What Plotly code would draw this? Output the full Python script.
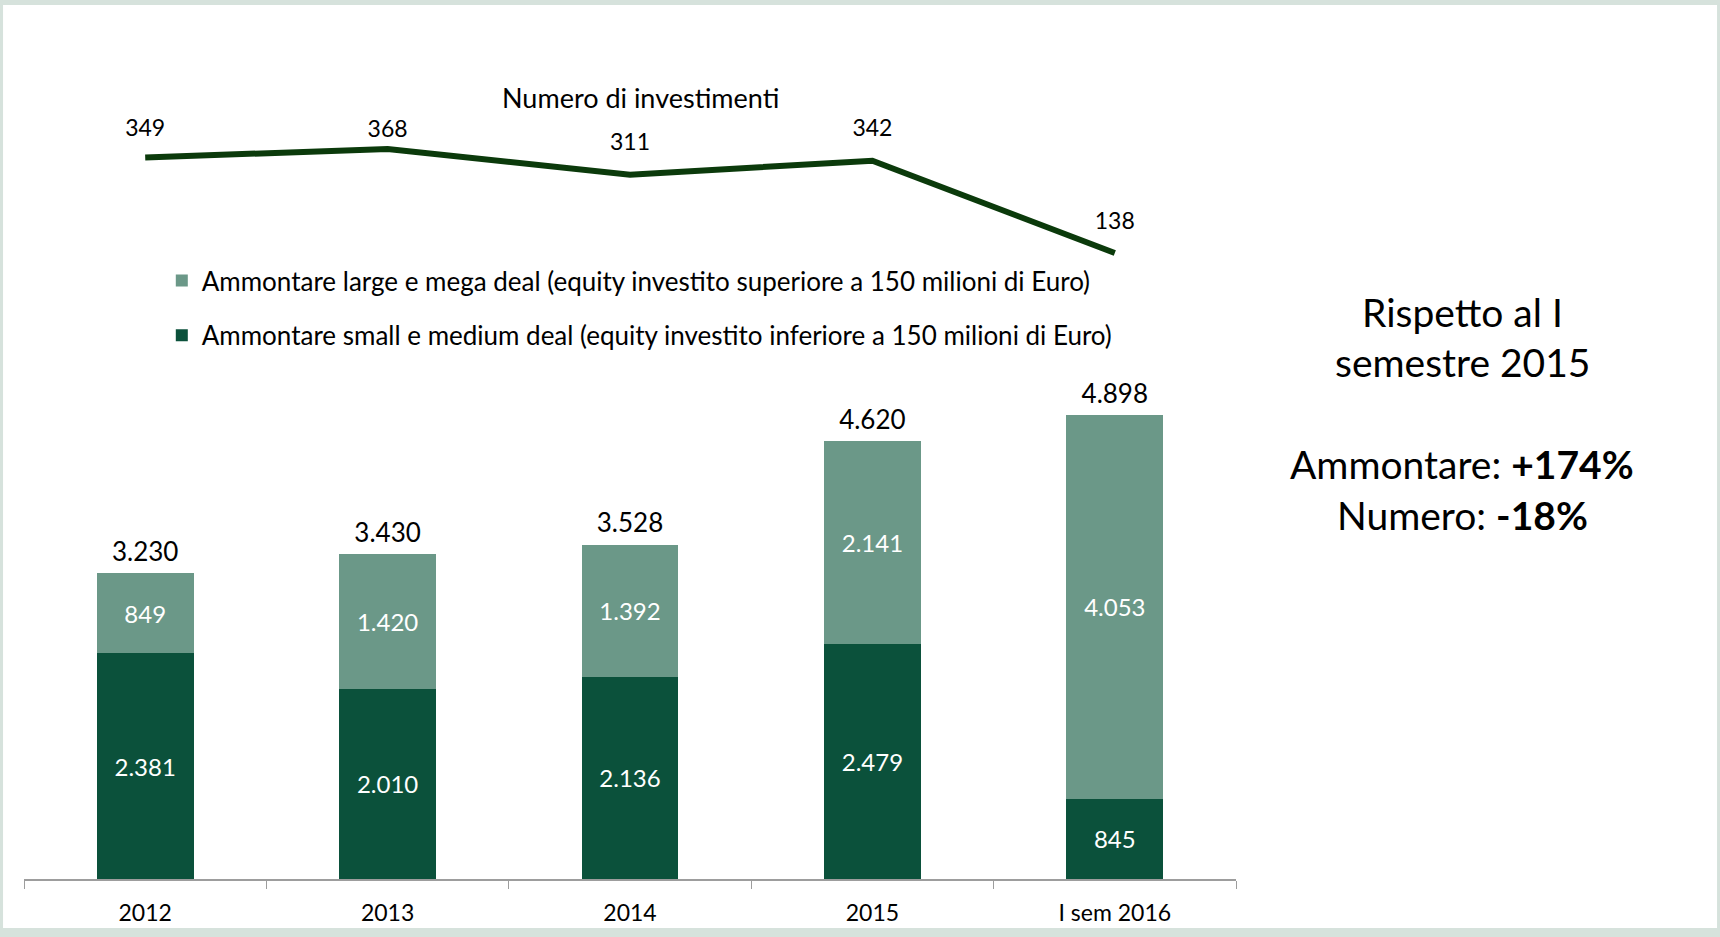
import plotly.graph_objects as go

categories = ["2012", "2013", "2014", "2015", "I sem 2016"]
small_medium = [2381, 2010, 2136, 2479, 845]
large_mega = [849, 1420, 1392, 2141, 4053]
totals = [3230, 3430, 3528, 4620, 4898]
num_investimenti = [349, 368, 311, 342, 138]

FONT = "Lato"
DARK = "#0b513b"
LIGHT = "#6b9888"
LINE = "#0b3a0b"

fig = go.Figure()

fig.add_trace(go.Bar(
    x=categories, y=small_medium,
    name="Ammontare small e medium deal (equity investito inferiore a 150 milioni di Euro)",
    legendgroup="small", legendrank=2,
    marker=dict(color=DARK, line=dict(width=0)),
    texttemplate="%{y:,.0f}", textposition="inside", insidetextanchor="middle",
    textfont=dict(color="white", size=24, family=FONT),
))
fig.add_trace(go.Bar(
    x=categories, y=large_mega,
    name="Ammontare large e mega deal (equity investito superiore a 150 milioni di Euro)",
    legendgroup="large", legendrank=1,
    marker=dict(color=LIGHT, line=dict(width=0)),
    texttemplate="%{y:,.0f}", textposition="inside", insidetextanchor="middle",
    textfont=dict(color="white", size=24, family=FONT),
))

# totals above the stacks
fig.add_trace(go.Scatter(
    x=categories, y=totals, mode="markers+text",
    text=[f"{v:,}".replace(",", ".") for v in totals],
    textposition="top center",
    marker=dict(size=8, color="rgba(0,0,0,0)", line=dict(width=0)),
    textfont=dict(color="black", size=26, family=FONT),
    showlegend=False, hoverinfo="skip",
))

# numero di investimenti line (invisible markers only set the label gap)
fig.add_trace(go.Scatter(
    x=categories, y=num_investimenti, yaxis="y2",
    mode="lines+markers+text",
    text=[str(v) for v in num_investimenti],
    textposition="top center",
    line=dict(color=LINE, width=6),
    marker=dict(size=[24, 8, 28, 28, 28], color="rgba(0,0,0,0)",
                line=dict(width=0, color="rgba(0,0,0,0)")),
    textfont=dict(color="black", size=23, family=FONT),
    showlegend=False, hoverinfo="skip",
))

ann_font = dict(size=39, family=FONT, color="black")
RX = 1.1865

fig.update_layout(
    width=1720, height=937,
    margin=dict(l=24, r=484, t=20, b=58),
    barmode="stack", bargap=0.6,
    separators=",.",
    font=dict(family=FONT, color="black"),
    paper_bgcolor="#d6e2dc",
    plot_bgcolor="rgba(0,0,0,0)",
    showlegend=True,
    legend=dict(
        x=0.1137, y=0.724, xanchor="left", yanchor="top",
        traceorder="grouped", tracegroupgap=18,
        font=dict(size=26, family=FONT, color="black"),
        bgcolor="rgba(0,0,0,0)",
    ),
    xaxis=dict(
        type="category", range=[-0.5, 4.5],
        showline=True, linecolor="#9d9d9d", linewidth=1.5,
        ticks="outside", tickson="boundaries", ticklen=8, tickcolor="#9d9d9d",
        tickfont=dict(size=23, family=FONT, color="black"),
        ticklabelstandoff=13,
        showgrid=False, zeroline=False,
    ),
    yaxis=dict(range=[0, 9068], visible=False, showgrid=False, zeroline=False),
    yaxis2=dict(range=[-1246, 653], overlaying="y", visible=False,
                showgrid=False, zeroline=False),
    shapes=[dict(
        type="rect", xref="paper", yref="paper", layer="below",
        x0=-0.0173, x1=1.3969, y0=-0.057, y1=1.0175,
        fillcolor="white", line=dict(width=0),
    )],
    annotations=[
        dict(text="Numero di investimenti", xref="paper", yref="paper",
             x=0.5083, y=0.9092, xanchor="center", yanchor="middle",
             showarrow=False, font=dict(size=27, family=FONT, color="black")),
        dict(text="Rispetto al I", xref="paper", yref="paper",
             x=RX, y=0.6606, xanchor="center", yanchor="middle",
             showarrow=False, font=ann_font),
        dict(text="semestre 2015", xref="paper", yref="paper",
             x=RX, y=0.6024, xanchor="center", yanchor="middle",
             showarrow=False, font=ann_font),
        dict(text="Ammontare: <b>+174%</b>", xref="paper", yref="paper",
             x=RX, y=0.4831, xanchor="center", yanchor="middle",
             showarrow=False, font=ann_font),
        dict(text="Numero: <b>-18%</b>", xref="paper", yref="paper",
             x=RX, y=0.4239, xanchor="center", yanchor="middle",
             showarrow=False, font=ann_font),
    ],
)

fig.write_html("out.html", config={"displayModeBar": False},
               post_script="document.body.style.margin='0';")
